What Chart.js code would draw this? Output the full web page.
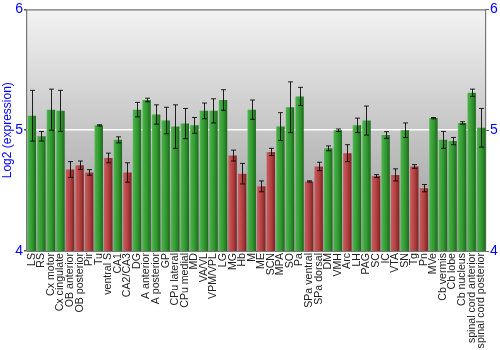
<!DOCTYPE html>
<html>
<head>
<meta charset="utf-8">
<script src="https://cdn.jsdelivr.net/npm/chart.js@4.4.0/dist/chart.umd.min.js"></script>
<style>
  html, body { margin: 0; padding: 0; background: #ffffff; }
  #wrap { width: 500px; height: 350px; }
</style>
</head>
<body>
<div id="wrap"><canvas id="chart" width="500" height="350"></canvas></div>
<script>
// Brain regions along the x axis
const regions = [
  'LS', 'RS', 'Cx motor', 'Cx cingulate', 'OB anterior', 'OB posterior', 'Pir', 'Tu',
  'ventral S', 'CA1', 'CA2/CA3', 'DG', 'A anterior', 'A posterior', 'GP', 'CPu lateral',
  'CPu medial', 'MD', 'VA/VL', 'VPM/VPL', 'LG', 'MG', 'Hb', 'M', 'ME', 'SCN', 'MPA', 'SO',
  'Pa', 'SPa ventral', 'SPa dorsal', 'DM', 'VMH', 'Arc', 'LH', 'PAG', 'SC', 'IC', 'VTA',
  'SN', 'Tg', 'Pn', 'MVe', 'Cb vermis', 'Cb lobe', 'Cb nucleus', 'spinal cord anterior',
  'spinal cord posterior'
];

// Mean log2 expression per region
const expression = [
  5.12, 4.95, 5.17, 5.16, 4.675, 4.71, 4.65, 5.04,
  4.77, 4.92, 4.65, 5.17, 5.25, 5.13, 5.08, 5.03,
  5.055, 5.04, 5.16, 5.16, 5.25, 4.79, 4.64, 5.17, 4.535, 4.82, 5.03, 5.19,
  5.28, 4.576, 4.70, 4.85, 5.00, 4.81, 5.04, 5.08, 4.62, 4.96, 4.63,
  5.00, 4.70, 4.52, 5.10, 4.92, 4.91, 5.06, 5.31,
  5.02
];

// Standard error per region
const stdError = [
  0.21, 0.04, 0.17, 0.17, 0.065, 0.035, 0.023, 0.005,
  0.04, 0.025, 0.08, 0.06, 0.015, 0.08, 0.11, 0.18,
  0.125, 0.065, 0.065, 0.10, 0.085, 0.045, 0.085, 0.08, 0.045, 0.03, 0.115, 0.21,
  0.075, 0.005, 0.035, 0.02, 0.01, 0.07, 0.06, 0.12, 0.012, 0.028, 0.05,
  0.06, 0.015, 0.03, 0.005, 0.07, 0.03, 0.01, 0.03,
  0.16
];

// Regions with low expression (shown in red)
const lowRegions = [
  'OB anterior', 'OB posterior', 'Pir', 'ventral S', 'CA2/CA3', 'MG', 'Hb', 'ME', 'SCN',
  'SPa ventral', 'SPa dorsal', 'Arc', 'SC', 'VTA', 'Tg', 'Pn'
];

// Axis range and tick values
const yMin = 4, yMax = 6, yStep = 1;

const BAR_FRACTION = 0.88;
const FONT = '"Liberation Sans", Arial, sans-serif';

function barFill(ctx) {
  const chart = ctx.chart;
  const area = chart.chartArea;
  const xs = chart.scales.x;
  if (!area || !xs) return '#2f962f';
  const i = ctx.dataIndex;
  const low = lowRegions.includes(regions[i]);
  const x = xs.getPixelForValue(i);
  const w = (area.right - area.left) / regions.length * BAR_FRACTION;
  const g = chart.ctx.createLinearGradient(x - w / 2, 0, x + w / 2, 0);
  if (low) {
    g.addColorStop(0, '#c26060');
    g.addColorStop(0.15, '#c65454');
    g.addColorStop(0.55, '#b04040');
    g.addColorStop(0.85, '#8e2c2c');
    g.addColorStop(1, '#7a2424');
  } else {
    g.addColorStop(0, '#5cb85c');
    g.addColorStop(0.15, '#44ad44');
    g.addColorStop(0.55, '#32982f');
    g.addColorStop(0.85, '#227a22');
    g.addColorStop(1, '#1b661b');
  }
  return g;
}

// Plot area background gradient and top frame line
const plotBackground = {
  id: 'plotBackground',
  beforeDraw(chart) {
    const { ctx, chartArea: a } = chart;
    const g = ctx.createLinearGradient(0, a.top, 0, a.bottom);
    g.addColorStop(0, '#f3f3f3');
    g.addColorStop(1, '#989898');
    ctx.save();
    ctx.fillStyle = g;
    ctx.fillRect(a.left, a.top, a.right - a.left, a.bottom - a.top);
    ctx.restore();
  },
  afterDraw(chart) {
    const { ctx, chartArea: a } = chart;
    ctx.save();
    ctx.strokeStyle = '#777777';
    ctx.lineWidth = 1.2;
    ctx.beginPath();
    ctx.moveTo(a.left, a.top + 0.5);
    ctx.lineTo(a.right, a.top + 0.5);
    ctx.stroke();
    ctx.restore();
  }
};

// Error bars with caps, drawn from the value and error arrays
const errorBars = {
  id: 'errorBars',
  afterDatasetsDraw(chart) {
    const { ctx } = chart;
    const ys = chart.scales.y;
    const meta = chart.getDatasetMeta(0);
    ctx.save();
    ctx.strokeStyle = 'rgba(0,0,0,0.85)';
    ctx.lineWidth = 1;
    meta.data.forEach((bar, i) => {
      const v = expression[i], e = stdError[i];
      const x = Math.round(bar.x) + 0.5;
      const top = ys.getPixelForValue(v + e);
      const bot = ys.getPixelForValue(v - e);
      const cap = 2.5;
      ctx.beginPath();
      ctx.moveTo(x, top); ctx.lineTo(x, bot);
      ctx.moveTo(x - cap, top); ctx.lineTo(x + cap, top);
      ctx.moveTo(x - cap, bot); ctx.lineTo(x + cap, bot);
      ctx.stroke();
    });
    ctx.restore();
  }
};

new Chart(document.getElementById('chart'), {
  type: 'bar',
  data: {
    labels: regions,
    datasets: [{
      data: expression,
      backgroundColor: barFill,
      borderWidth: 0,
      barPercentage: BAR_FRACTION,
      categoryPercentage: 1.0
    }]
  },
  options: {
    responsive: false,
    animation: false,
    devicePixelRatio: 1,
    layout: { padding: { top: 9, left: 0, right: 0, bottom: 0 } },
    plugins: {
      legend: { display: false },
      tooltip: { enabled: false }
    },
    scales: {
      x: {
        grid: { display: false, drawTicks: false },
        border: { display: true, color: '#777777' },
        ticks: {
          autoSkip: false,
          minRotation: 90,
          maxRotation: 90,
          padding: 2,
          color: '#222222',
          font: { family: FONT, size: 10.6 }
        },
        afterFit(s) { s.height = 99; }
      },
      y: {
        position: 'left',
        min: yMin, max: yMax,
        ticks: {
          stepSize: yStep,
          color: '#0000ff',
          padding: 1,
          font: { family: FONT, size: 14 }
        },
        grid: {
          color: (c) => (c.tick && c.tick.value === 5 ? '#ffffff' : 'rgba(0,0,0,0)'),
          lineWidth: 1.5,
          tickColor: '#555555',
          tickLength: 3
        },
        border: { color: '#777777', width: 1.2 },
        title: {
          display: true,
          text: 'Log2 (expression)',
          color: '#0000ff',
          padding: { top: 0, bottom: 0 },
          font: { family: FONT, size: 12 }
        },
        afterFit(s) { s.width = 27; }
      },
      y2: {
        position: 'right',
        min: yMin, max: yMax,
        ticks: {
          stepSize: yStep,
          color: '#0000ff',
          padding: 1,
          font: { family: FONT, size: 14 }
        },
        grid: {
          drawOnChartArea: false,
          tickColor: '#555555',
          tickLength: 3
        },
        border: { color: '#777777', width: 1.2 },
        afterFit(s) { s.width = 14; }
      }
    }
  },
  plugins: [plotBackground, errorBars]
});
</script>
</body>
</html>
